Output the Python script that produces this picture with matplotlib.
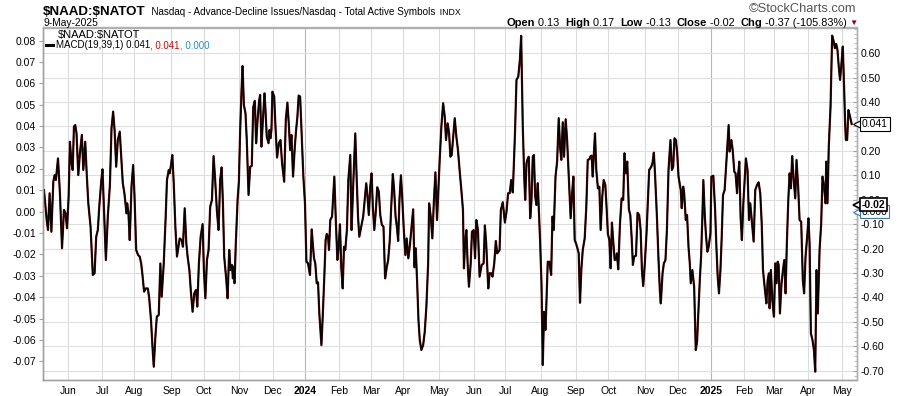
import matplotlib
matplotlib.use("Agg")
import matplotlib.pyplot as plt
import matplotlib.transforms as mtransforms
from matplotlib.ticker import MultipleLocator
import pandas as pd

# trading calendar (NYSE closures inside the window)
holidays = ["2023-05-29", "2023-06-19", "2023-07-04", "2023-09-04", "2023-11-23",
            "2023-12-25", "2024-01-01", "2024-01-15", "2024-02-19", "2024-03-29",
            "2024-05-27", "2024-06-19", "2024-07-04", "2024-09-02", "2024-11-28",
            "2024-12-25", "2025-01-01", "2025-01-09", "2025-01-20", "2025-02-17",
            "2025-04-18"]
first_day, last_day = "2023-05-10", "2025-05-09"

# MACD(19,39,1) of $NAAD:$NATOT (x = trading session number)
session = [
    0.0, 1.7, 2.5, 3.5, 4.6, 5.8, 6.6, 7.4, 8.7, 9.9, 11.2, 12.4, 13.4, 14.3, 15.3, 16.1, 17.1, 17.8, 18.6, 19.4,
    20.2, 21.3, 22.3, 23.5, 24.4, 25.6, 26.4, 27.5, 28.9, 30.3, 31.4, 32.4, 33.4, 34.3, 35.5, 36.3, 37.1, 38.4, 39.6, 40.9,
    41.9, 42.9, 43.8, 44.8, 45.8, 47.0, 47.9, 48.9, 49.9, 51.2, 51.6, 52.4, 53.2, 54.3, 55.3, 56.1, 57.2, 58.4, 59.4, 60.3,
    61.1, 62.1, 63.1, 64.4, 65.2, 66.4, 67.3, 68.1, 69.1, 70.0, 71.2, 72.2, 73.0, 74.3, 75.5, 76.3, 77.4, 78.0, 78.8, 79.6,
    80.5, 81.5, 82.5, 83.4, 84.2, 85.4, 86.2, 87.3, 88.3, 89.1, 90.2, 91.2, 92.2, 93.2, 94.3, 95.1, 96.1, 97.2, 98.4, 99.2,
    100.1, 101.1, 102.1, 103.1, 104.2, 105.2, 106.2, 107.3, 108.3, 109.3, 110.2, 111.0, 111.8, 113.1, 113.9, 114.9, 115.7, 116.6, 117.2, 117.6,
    118.2, 119.0, 120.1, 120.9, 121.7, 122.6, 123.2, 124.0, 125.0, 125.8, 126.9, 127.9, 128.9, 129.8, 130.8, 131.6, 132.5, 133.5, 134.1, 134.9,
    135.8, 136.8, 137.4, 138.2, 139.3, 139.9, 140.5, 141.1, 141.7, 142.8, 143.6, 144.6, 145.7, 146.7, 147.7, 149.0, 150.0, 151.0, 151.9, 152.7,
    153.5, 154.5, 155.6, 156.4, 157.2, 158.0, 158.9, 159.9, 160.9, 161.9, 162.8, 163.8, 165.0, 166.1, 166.7, 167.5, 168.3, 169.2, 170.0, 170.8,
    172.1, 172.9, 173.9, 174.7, 175.4, 176.2, 176.8, 177.6, 178.7, 180.1, 181.1, 182.0, 182.8, 183.6, 184.4, 185.3, 186.1, 186.9, 187.9, 188.8,
    190.0, 190.8, 191.7, 193.1, 194.0, 194.8, 195.6, 196.8, 198.0,
    199.1, 199.9, 200.7, 201.5, 202.4, 203.2, 204.0, 204.9, 205.9, 206.7, 207.7, 208.6, 209.6, 210.6, 211.6, 212.7, 213.5, 214.5, 215.4, 216.4,
    217.2, 218.1, 218.9, 219.7, 220.5, 221.4, 222.2, 223.2, 224.2, 225.0, 226.0, 227.0, 228.0, 229.0, 229.8, 230.6, 231.5, 232.3, 233.1, 234.1,
    235.2, 236.2, 237.2, 238.3, 238.9, 239.9, 240.9, 241.8, 242.8, 243.8, 244.7, 245.5, 246.5, 247.6, 248.6, 249.4, 250.4, 251.3, 252.1, 252.9,
    253.7, 254.8, 255.8, 256.8, 257.8, 258.9, 259.9, 260.5, 261.2, 262.0, 262.8, 263.6, 264.7, 265.5, 266.5, 267.4, 268.2, 269.2, 270.2, 271.5,
    272.7, 273.5, 274.3, 274.9, 275.6, 276.4, 277.4, 278.2, 279.3, 280.3, 281.1, 281.9, 282.6, 283.4, 284.6, 285.9, 286.9, 287.9, 288.9, 289.8,
    290.8, 292.1, 293.1, 294.2, 295.2, 296.0, 297.0,
    297.9, 298.5, 299.3, 300.1, 300.7, 301.6, 302.4, 303.2, 303.9, 304.7, 305.5, 306.3, 306.9, 307.8, 308.6, 309.4, 310.2, 311.1, 311.9, 312.5,
    313.5, 314.6, 315.4, 316.2, 317.3, 318.3, 319.3, 320.1, 320.9, 321.8, 322.6, 323.6, 324.5, 325.5, 326.7, 327.6, 328.4, 329.2, 330.0, 330.9,
    331.7, 332.5, 333.3, 334.2, 335.4, 336.4, 337.3, 338.3, 339.1, 339.7, 340.4, 341.0, 341.8, 342.6, 343.6, 344.5, 345.3, 346.3, 347.2, 348.2,
    349.0, 349.8, 350.7, 351.5, 352.3, 353.2, 354.0, 354.8, 355.4, 356.2, 357.3, 358.3, 359.3, 360.1, 360.9, 361.8, 362.8, 363.7, 364.5, 365.3,
    366.1, 367.2, 368.2, 369.2, 370.1, 370.9, 371.7, 372.7, 373.8, 374.6, 375.4, 376.7, 377.5, 378.3, 379.1, 380.2, 381.2, 382.0, 382.6, 383.7,
    384.5, 385.5, 386.4, 387.4, 388.6, 389.5, 390.3, 391.1, 392.0, 392.8, 393.6,
    395.0, 395.6, 396.5, 397.1, 398.1, 398.9, 399.8, 400.6, 401.2, 402.2, 403.3, 404.3, 405.1, 405.9, 406.8, 407.6, 408.4, 409.0, 409.9, 410.7,
    411.5, 412.3, 413.4, 414.0, 415.2, 416.3, 417.1, 417.9, 418.7, 419.6, 420.4, 421.2, 422.2, 423.1, 423.9, 424.7, 425.3, 426.4, 427.2, 428.2,
    429.0, 429.9, 430.5, 431.3, 432.1, 432.9, 433.8, 434.6, 435.4, 436.4, 437.3, 438.1, 439.2, 440.2, 441.2, 442.3, 443.3, 444.3, 445.2, 446.0,
    447.2, 448.1, 448.9, 449.7, 450.1, 450.9, 451.8, 452.8, 453.6, 454.4, 455.1, 455.7, 456.5, 457.5, 458.4, 459.2, 460.0, 460.8, 461.7, 462.5,
    463.3, 464.1, 464.9, 466.0, 466.8, 467.8, 468.7, 469.7, 470.7, 471.5, 472.4, 473.4, 474.2, 474.9, 475.7, 476.7, 477.6, 478.4, 479.2, 480.0,
    481.1, 482.1, 482.9, 483.9, 484.8, 485.2, 486.0, 486.8, 487.9, 488.9, 489.9, 490.6, 491.4, 492.2, 493.0, 493.8, 494.7, 495.5, 496.3, 496.9,
    497.4, 498.2, 499.0, 500.0, 501.0,
]
macd = [
    0.0101, -0.0039, -0.0086, 0.0086, -0.0094, 0.0140, 0.0171, 0.0148, 0.0249, 0.0086, -0.0171, 0.0008, -0.0008, -0.0078, 0.0070, 0.0327, 0.0226, 0.0195, 0.0398, 0.0405,
    0.0366, 0.0171, 0.0273, 0.0359, 0.0195, 0.0327, 0.0195, 0.0039, -0.0070, -0.0296, -0.0288, -0.0117, -0.0086, 0.0023, 0.0140, 0.0198, 0.0039, -0.0226, -0.0023, 0.0125,
    0.0390, 0.0468, 0.0382, 0.0210, 0.0335, 0.0374, 0.0257, 0.0133, 0.0086, -0.0008, 0.0039, -0.0008, -0.0133, 0.0117, 0.0218, 0.0086, -0.0179, -0.0203, -0.0210, -0.0242,
    -0.0296, -0.0374, -0.0359, -0.0359, -0.0398, -0.0507, -0.0631, -0.0725, -0.0585, -0.0491, -0.0483, -0.0242, -0.0398, -0.0242, -0.0023, 0.0148, 0.0195, 0.0179, 0.0218, 0.0265,
    0.0133, -0.0070, -0.0210, -0.0164, -0.0125, -0.0133, -0.0164, 0.0016, -0.0148, -0.0210, -0.0273, -0.0382, -0.0468, -0.0382, -0.0366, -0.0444, -0.0242, -0.0117, -0.0058, -0.0273,
    -0.0405, -0.0226, -0.0179, 0.0023, 0.0055, 0.0260, 0.0148, 0.0000, -0.0086, 0.0148, 0.0207, 0.0039, -0.0210, -0.0320, -0.0405, -0.0179, -0.0273, -0.0249, -0.0312, -0.0257,
    -0.0335, -0.0148, 0.0055, 0.0140, 0.0382, 0.0577, 0.0681, 0.0499, 0.0460, 0.0335, 0.0078, 0.0210, 0.0214, 0.0488, 0.0518, 0.0320, 0.0429, 0.0522, 0.0546, 0.0304,
    0.0429, 0.0553, 0.0475, 0.0351, 0.0320, 0.0382, 0.0343, 0.0382, 0.0561, 0.0538, 0.0398, 0.0253, 0.0320, 0.0335, 0.0226, 0.0140, 0.0429, 0.0510, 0.0405, 0.0288,
    0.0359, 0.0164, 0.0304, 0.0382, 0.0444, 0.0543, 0.0538, 0.0351, 0.0164, 0.0039, -0.0234, -0.0242, -0.0296, -0.0083, -0.0148, -0.0218, -0.0242, -0.0335, -0.0331, -0.0476,
    -0.0624, -0.0491, -0.0304, -0.0133, -0.0104, -0.0117, -0.0179, -0.0039, -0.0023, 0.0164, -0.0055, -0.0226, -0.0164, -0.0059, -0.0257, -0.0359, -0.0164, -0.0179, -0.0086, 0.0148,
    0.0265, -0.0086, 0.0101, 0.0366, 0.0148, -0.0023, -0.0117, -0.0070, -0.0023,
    0.0070, 0.0133, 0.0070, -0.0016, 0.0117, 0.0179, 0.0023, -0.0086, 0.0008, 0.0114, 0.0094, -0.0016, -0.0062, -0.0070, -0.0312, -0.0257, -0.0226, -0.0133, 0.0023, 0.0176,
    0.0101, -0.0023, -0.0070, -0.0137, 0.0055, 0.0170, 0.0070, -0.0086, -0.0203, -0.0125, -0.0218, -0.0156, -0.0070, 0.0011, -0.0260, -0.0171, -0.0335, -0.0507, -0.0600, -0.0647,
    -0.0624, -0.0561, -0.0444, -0.0242, 0.0039, -0.0023, -0.0125, 0.0039, 0.0184, -0.0039, 0.0117, 0.0249, 0.0398, 0.0507, 0.0444, 0.0335, 0.0413, 0.0366, 0.0257, 0.0265,
    0.0335, 0.0437, 0.0351, 0.0288, 0.0195, 0.0101, 0.0008, -0.0265, -0.0148, -0.0086, -0.0242, -0.0351, -0.0242, -0.0094, -0.0086, -0.0218, -0.0039, -0.0086, -0.0304, -0.0249,
    -0.0242, -0.0064, -0.0148, -0.0242, -0.0359, -0.0288, -0.0288, -0.0304, -0.0242, -0.0137, -0.0195, -0.0187, -0.0179, 0.0008, 0.0044, -0.0051, 0.0000, 0.0086, 0.0086, 0.0148,
    0.0090, 0.0351, 0.0616, 0.0631, 0.0709, 0.0822, 0.0398,
    0.0164, 0.0055, 0.0226, 0.0249, 0.0257, -0.0031, 0.0055, 0.0257, 0.0265, 0.0070, 0.0031, 0.0133, 0.0023, -0.0148, -0.0335, -0.0717, -0.0468, -0.0553, -0.0366, -0.0234,
    -0.0234, -0.0296, -0.0023, -0.0086, 0.0164, 0.0234, 0.0437, 0.0304, 0.0242, 0.0418, 0.0257, 0.0432, 0.0335, 0.0164, -0.0031, 0.0086, 0.0164, -0.0133, -0.0148, -0.0171,
    -0.0195, -0.0426, -0.0273, -0.0179, -0.0125, 0.0023, 0.0242, 0.0245, 0.0260, 0.0262, 0.0164, 0.0257, 0.0366, 0.0195, 0.0109, 0.0117, -0.0086, 0.0070, 0.0148, 0.0125,
    0.0016, -0.0104, -0.0133, -0.0265, -0.0051, -0.0148, -0.0226, -0.0223, -0.0195, -0.0270, -0.0055, 0.0062, 0.0055, 0.0273, 0.0179, 0.0234, 0.0011, -0.0016, -0.0117, -0.0249,
    -0.0210, -0.0206, -0.0005, -0.0016, -0.0086, -0.0273, -0.0348, -0.0242, -0.0094, 0.0055, 0.0195, 0.0210, 0.0229, 0.0276, 0.0164, -0.0023, -0.0226, -0.0366, -0.0429, -0.0288,
    -0.0242, -0.0226, -0.0086, 0.0195, 0.0335, 0.0195, 0.0210, 0.0343, 0.0335, 0.0273, 0.0164,
    0.0101, 0.0016, 0.0117, 0.0086, -0.0039, -0.0016, -0.0164, -0.0242, -0.0335, -0.0273, -0.0351, -0.0647, -0.0608, -0.0476, -0.0320, -0.0210, -0.0023, 0.0148, -0.0023, -0.0117,
    -0.0187, -0.0164, -0.0101, 0.0164, 0.0168, 0.0008, -0.0164, -0.0304, -0.0382, -0.0273, -0.0117, 0.0078, 0.0101, 0.0210, 0.0304, 0.0405, 0.0281, 0.0335, 0.0288, 0.0187,
    0.0179, 0.0086, 0.0164, 0.0234, -0.0023, -0.0133, 0.0039, 0.0148, 0.0249, 0.0195, -0.0039, 0.0039, -0.0055, -0.0140, 0.0101, 0.0125, 0.0137, 0.0086, -0.0055, -0.0273,
    -0.0366, -0.0429, -0.0320, -0.0288, -0.0452, -0.0273, -0.0413, -0.0491, -0.0242, -0.0335, -0.0234, -0.0249, -0.0476, -0.0335, -0.0273, -0.0226, -0.0382, -0.0148, 0.0055, 0.0179,
    0.0109, 0.0260, 0.0164, 0.0062, 0.0242, 0.0117, -0.0039, -0.0047, -0.0320, -0.0382, -0.0210, -0.0117, -0.0031, -0.0148, -0.0569, -0.0600, -0.0647, -0.0748, -0.0273, -0.0476,
    -0.0179, -0.0055, 0.0164, 0.0117, 0.0039, 0.0234, 0.0039, 0.0304, 0.0491, 0.0823, 0.0795, 0.0764, 0.0784, 0.0756, 0.0678, 0.0616, 0.0694, 0.0772, 0.0585, 0.0421,
    0.0335, 0.0335, 0.0475, 0.0444, 0.041,
]

left_ticks = [0.08, 0.07, 0.06, 0.05, 0.04, 0.03, 0.02, 0.01, 0.00, -0.01, -0.02, -0.03, -0.04, -0.05, -0.06, -0.07]
right_ticks = [0.60, 0.50, 0.40, 0.30, 0.20, 0.10, 0.00, -0.10, -0.20, -0.30, -0.40, -0.50, -0.60, -0.70]
last_close = -0.02
signal_last, hist_last = 0.041, 0.000

W, H = 900, 396
plt.rcParams["font.family"] = ["Liberation Sans", "DejaVu Sans"]

days = pd.bdate_range(first_day, last_day)
days = days[~days.isin(pd.to_datetime(holidays))]
month_idx = [i for i in range(1, len(days)) if days[i].month != days[i - 1].month]

fig = plt.figure(figsize=(W / 100, H / 100), dpi=100)
ax = fig.add_axes([43 / W, 1 - 380 / H, 813.5 / W, 352.5 / H])
ax2 = ax.twinx()
ax.set_zorder(ax2.get_zorder() + 1)
ax.patch.set_visible(False)

ax.set_xlim(-0.6, 504)
ax.set_ylim(-0.0787, 0.0861)
ax2.set_ylim(-0.738, 0.705)

# grid: horizontal on the right scale, vertical at month starts
ax2.set_yticks(right_ticks)
ax2.set_yticklabels([f"{v:.2f}" for v in right_ticks])
ax2.yaxis.set_minor_locator(MultipleLocator(0.02))
ax2.grid(axis="y", color="#dedede", lw=0.8)
for i in month_idx:
    c = "#b8b8b8" if days[i].month == 1 else "#dcdcdc"
    ax2.axvline(i, color=c, lw=0.8, zorder=0.5)

ax.plot(session, macd, color="#5a1212", lw=1.6, solid_joinstyle="round")
ax.plot(session, macd, color="#050000", lw=1.0, solid_joinstyle="round")

ax.set_yticks(left_ticks)
ax.set_yticklabels([f"{v:.2f}" for v in left_ticks])
ax.set_xticks(month_idx)
ax.set_xticklabels([str(days[i].year) if days[i].month == 1 else days[i].strftime("%b")
                    for i in month_idx])
for lab, i in zip(ax.get_xticklabels(), month_idx):
    if days[i].month == 1:
        lab.set_fontweight("bold")

ax.tick_params(axis="y", labelsize=7.5, length=3, width=0.8, color="#a0a0a0", pad=2)
ax.tick_params(axis="x", labelsize=7.5, length=0, pad=4)
ax2.tick_params(axis="y", which="major", labelsize=7.5, length=3, width=0.8,
                color="#a0a0a0", direction="in", pad=3)
ax2.tick_params(axis="y", which="minor", length=2, width=0.6, color="#b0b0b0",
                direction="in")
for a in (ax, ax2):
    for s in a.spines.values():
        s.set_color("#b0b0b0")
        s.set_linewidth(1.0)
ax.spines["left"].set_color("#a0a0a0")
ax.spines["bottom"].set_color("#a0a0a0")


# value tags on the right edge (all drawn on the top axes so the stacking is controlled)
def tag(scale_ax, y, txt, edge, bold=False, lw=0.8, z=5):
    tr = mtransforms.blended_transform_factory(ax.transAxes, scale_ax.transData)
    ax.plot([1.0], [y], marker="<", ms=6, mfc="white", mec=edge, mew=lw,
            transform=tr, clip_on=False, zorder=z)
    ax.annotate(txt, (1.0, y), xycoords=tr, xytext=(4, 0), textcoords="offset points",
                ha="left", va="center", fontsize=7.5,
                fontweight="bold" if bold else "normal", zorder=z + 1,
                annotation_clip=False,
                bbox=dict(boxstyle="square,pad=0.15", fc="white", ec=edge, lw=lw))


tag(ax, hist_last, f"{hist_last:.3f}", "#3a78c0", z=5)
tag(ax2, last_close, f"{last_close:.2f}", "black", bold=True, lw=1.2, z=7)
tag(ax, macd[-1], f"{macd[-1]:.3f}", "black", z=9)

# text rows in figure pixels
renderer = fig.canvas.get_renderer()


def row(pieces, x, y, align="left"):
    texts = [fig.text(0, 1 - y / H, s, va="baseline", **kw) for s, kw in pieces]
    widths = [t.get_window_extent(renderer).width for t in texts]
    cur = x - sum(widths) if align == "right" else x
    for t, w in zip(texts, widths):
        t.set_x(cur / W)
        cur += w
    return texts


row([(r"\$NAAD:\$NATOT", dict(fontsize=9.6, fontweight="bold")),
     ("  Nasdaq - Advance-Decline Issues/Nasdaq - Total Active Symbols", dict(fontsize=7.1)),
     ("  INDX", dict(fontsize=6.3))], 43, 15)
fig.text(43 / W, 1 - 26 / H, "9-May-2025", fontsize=7.4, va="baseline")
fig.text(856 / W, 1 - 12 / H, "\u00a9StockCharts.com", fontsize=9.3, color="#555555",
         ha="right", va="baseline")

bold = dict(fontsize=8, fontweight="bold")
reg = dict(fontsize=7.8)
row([("Open", bold), (" 0.13  ", reg), ("High", bold), (" 0.17  ", reg),
     ("Low", bold), (" -0.13  ", reg), ("Close", bold), (" -0.02  ", reg),
     ("Chg", bold), (" -0.37 (-105.83%)", reg)], 847, 25.5, align="right")
fig.text(853 / W, 1 - 25 / H, "\u25bc", fontsize=6, color="#8b0020", ha="center",
         va="baseline")

row([(r"\$NAAD:\$NATOT", dict(fontsize=8))], 58, 38)
fig.lines.append(plt.Line2D([46 / W, 53 / W], [1 - 44.5 / H, 1 - 44.5 / H],
                            transform=fig.transFigure, color="black", lw=2.2))
row([(f"MACD(19,39,1) {macd[-1]:.3f}", dict(fontsize=7)),
     (f", {signal_last:.3f}", dict(fontsize=7, color="#e00000")),
     (f", {hist_last:.3f}", dict(fontsize=7, color="#2a8fd0"))], 56, 48)

fig.savefig("out.png", dpi=100)
